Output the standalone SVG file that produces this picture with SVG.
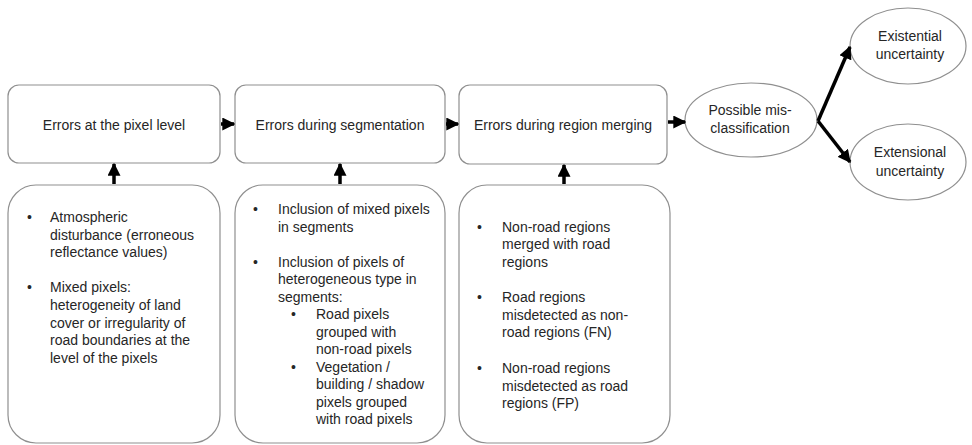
<svg xmlns="http://www.w3.org/2000/svg" width="972" height="445" viewBox="0 0 972 445">
<style>
  .box { fill: #ffffff; stroke: #8f8f8f; stroke-width: 1.2; }
  .t { font-family: "Liberation Sans", Arial, sans-serif; font-size: 14px; fill: #262626; }
  .c { text-anchor: middle; }
  .conn { stroke: #000; stroke-width: 3.5; fill: none; }
</style>
<defs>
  <marker id="ah" viewBox="0 0 10 10" refX="9" refY="5" markerWidth="13" markerHeight="13" markerUnits="userSpaceOnUse" orient="auto">
    <path d="M0,0 L10,5 L0,10 Z" fill="#000"/>
  </marker>
</defs>
<rect width="972" height="445" fill="#ffffff"/>

<g id="pixel-level">
  <rect class="box" x="8" y="85" width="212" height="78" rx="11"/>
  <text class="t c" x="114" y="130">Errors at the pixel level</text>
</g>
<g id="segmentation">
  <rect class="box" x="235" y="85" width="210" height="78" rx="11"/>
  <text class="t c" x="340" y="130">Errors during segmentation</text>
</g>
<g id="region-merging">
  <rect class="box" x="459" y="85" width="208" height="79" rx="11"/>
  <text class="t c" x="563" y="130">Errors during region merging</text>
</g>
<g id="misclassification">
  <ellipse class="box" cx="751" cy="120" rx="66" ry="37"/>
  <text class="t c" x="750" y="115">Possible mis-</text>
  <text class="t c" x="750" y="133">classification</text>
</g>
<g id="existential">
  <ellipse class="box" cx="908" cy="46" rx="58" ry="38"/>
  <text class="t c" x="910" y="41">Existential</text>
  <text class="t c" x="910" y="59">uncertainty</text>
</g>
<g id="extensional">
  <ellipse class="box" cx="908" cy="162" rx="58" ry="38"/>
  <text class="t c" x="910" y="157">Extensional</text>
  <text class="t c" x="910" y="176">uncertainty</text>
</g>

<g id="pixel-causes">
  <rect class="box" x="8" y="185" width="212" height="258" rx="28"/>
  <text class="t" x="27" y="222">•</text>
  <text class="t" x="50" y="222">Atmospheric</text>
  <text class="t" x="50" y="239.6">disturbance (erroneous</text>
  <text class="t" x="50" y="257.2">reflectance values)</text>
  <text class="t" x="27" y="292.4">•</text>
  <text class="t" x="50" y="292.4">Mixed pixels:</text>
  <text class="t" x="50" y="310">heterogeneity of land</text>
  <text class="t" x="50" y="327.6">cover or irregularity of</text>
  <text class="t" x="50" y="345.2">road boundaries at the</text>
  <text class="t" x="50" y="362.8">level of the pixels</text>
</g>

<g id="segmentation-causes">
  <rect class="box" x="235" y="185" width="210" height="258" rx="28"/>
  <text class="t" x="253" y="214">•</text>
  <text class="t" x="278" y="214">Inclusion of mixed pixels</text>
  <text class="t" x="278" y="231.5">in segments</text>
  <text class="t" x="253" y="266.5">•</text>
  <text class="t" x="278" y="266.5">Inclusion of pixels of</text>
  <text class="t" x="278" y="284">heterogeneous type in</text>
  <text class="t" x="278" y="301.5">segments:</text>
  <text class="t" x="291" y="319">•</text>
  <text class="t" x="316" y="319">Road pixels</text>
  <text class="t" x="316" y="336.5">grouped with</text>
  <text class="t" x="316" y="354">non-road pixels</text>
  <text class="t" x="291" y="371.5">•</text>
  <text class="t" x="316" y="371.5">Vegetation /</text>
  <text class="t" x="316" y="389">building / shadow</text>
  <text class="t" x="316" y="406.5">pixels grouped</text>
  <text class="t" x="316" y="424">with road pixels</text>
</g>

<g id="merging-causes">
  <rect class="box" x="459" y="185" width="211" height="258" rx="28"/>
  <text class="t" x="477" y="231.5">•</text>
  <text class="t" x="502" y="231.5">Non-road regions</text>
  <text class="t" x="502" y="249.1">merged with road</text>
  <text class="t" x="502" y="266.7">regions</text>
  <text class="t" x="477" y="301.9">•</text>
  <text class="t" x="502" y="301.9">Road regions</text>
  <text class="t" x="502" y="319.5">misdetected as non-</text>
  <text class="t" x="502" y="337.1">road regions (FN)</text>
  <text class="t" x="477" y="373">•</text>
  <text class="t" x="502" y="373">Non-road regions</text>
  <text class="t" x="502" y="390.6">misdetected as road</text>
  <text class="t" x="502" y="408.2">regions (FP)</text>
</g>

<g id="connectors">
  <line class="conn" x1="221" y1="124" x2="234" y2="124" marker-end="url(#ah)"/>
  <line class="conn" x1="446" y1="124" x2="458" y2="124" marker-end="url(#ah)"/>
  <line class="conn" x1="668" y1="122" x2="685" y2="122" marker-end="url(#ah)"/>
  <line class="conn" x1="114" y1="184" x2="114" y2="164" marker-end="url(#ah)"/>
  <line class="conn" x1="340" y1="184" x2="340" y2="164" marker-end="url(#ah)"/>
  <line class="conn" x1="564" y1="184" x2="564" y2="165" marker-end="url(#ah)"/>
  <line class="conn" x1="818" y1="121" x2="850" y2="47" marker-end="url(#ah)"/>
  <line class="conn" x1="818" y1="121" x2="850" y2="162" marker-end="url(#ah)"/>
</g>
</svg>
